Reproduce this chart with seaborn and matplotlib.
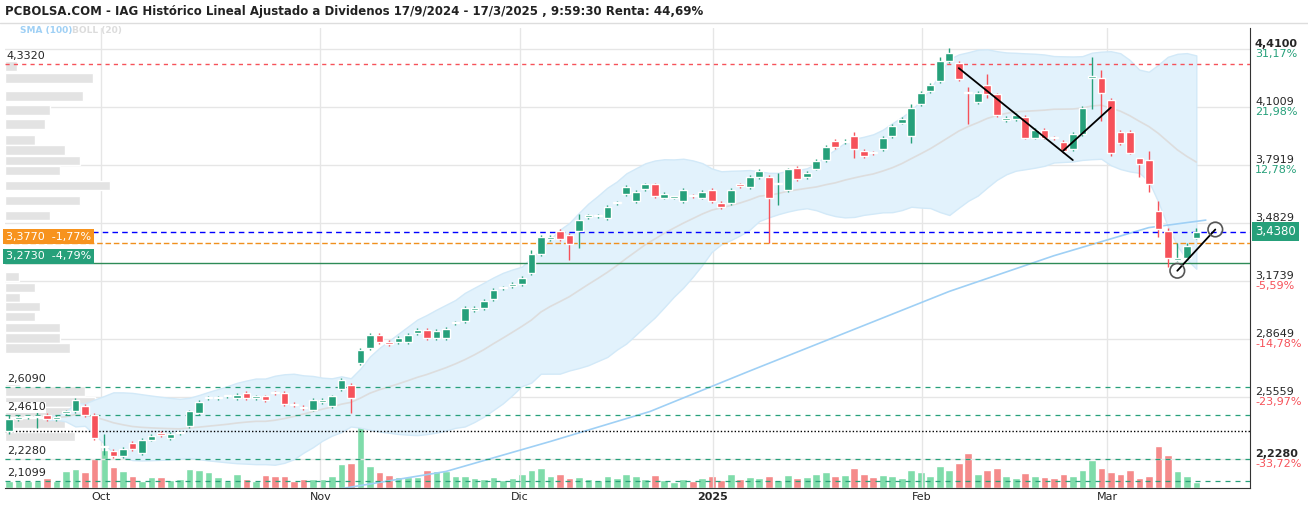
import numpy as np
import pandas as pd
import matplotlib
matplotlib.use("Agg")
import matplotlib.pyplot as plt
import seaborn as sns

# ---- data ----
opens = [2.375, 2.44, 2.45, 2.45, 2.46, 2.44, 2.47, 2.48, 2.51, 2.46,
         2.29, 2.27, 2.24, 2.31, 2.26, 2.33, 2.365, 2.34, 2.365, 2.40,
         2.47, 2.55, 2.55, 2.56, 2.55, 2.58, 2.55, 2.56, 2.58, 2.58,
         2.52, 2.505, 2.49, 2.53, 2.51, 2.60, 2.62, 2.74, 2.82, 2.89,
         2.85, 2.85, 2.85, 2.90, 2.915, 2.87, 2.87, 2.95, 2.96, 3.02,
         3.03, 3.08, 3.14, 3.15, 3.16, 3.22, 3.32, 3.40, 3.44, 3.42,
         3.44, 3.515, 3.52, 3.51, 3.59, 3.64, 3.60, 3.665, 3.69, 3.62,
         3.62, 3.60, 3.63, 3.62, 3.66, 3.59, 3.59, 3.69, 3.675, 3.73,
         3.73, 3.69, 3.66, 3.78, 3.73, 3.775, 3.82, 3.92, 3.915, 3.95,
         3.87, 3.86, 3.88, 3.95, 4.02, 3.95, 4.12, 4.19, 4.24, 4.35,
         4.34, 4.18, 4.13, 4.22, 4.17, 4.035, 4.04, 4.05, 3.94, 3.98,
         3.94, 3.915, 3.88, 3.96, 4.26, 4.26, 4.14, 3.97, 3.97, 3.83,
         3.82, 3.55, 3.44, 3.29, 3.30, 3.405]
closes = [2.439, 2.45, 2.45, 2.455, 2.44, 2.45, 2.48, 2.54, 2.46, 2.34,
          2.295, 2.24, 2.28, 2.28, 2.33, 2.35, 2.355, 2.36, 2.365, 2.48,
          2.53, 2.55, 2.55, 2.56, 2.57, 2.55, 2.56, 2.54, 2.578, 2.52,
          2.515, 2.50, 2.54, 2.54, 2.56, 2.65, 2.55, 2.81, 2.89, 2.85,
          2.84, 2.87, 2.89, 2.915, 2.87, 2.91, 2.92, 2.95, 3.03, 3.03,
          3.07, 3.13, 3.14, 3.16, 3.19, 3.32, 3.41, 3.41, 3.40, 3.375,
          3.50, 3.525, 3.52, 3.57, 3.59, 3.675, 3.65, 3.69, 3.63, 3.64,
          3.62, 3.66, 3.628, 3.65, 3.60, 3.57, 3.66, 3.68, 3.73, 3.76,
          3.62, 3.69, 3.77, 3.72, 3.75, 3.815, 3.89, 3.89, 3.92, 3.88,
          3.84, 3.858, 3.94, 4.00, 4.04, 4.10, 4.18, 4.22, 4.35, 4.39,
          4.25, 4.178, 4.18, 4.17, 4.06, 4.045, 4.06, 3.94, 3.98, 3.94,
          3.935, 3.87, 3.96, 4.10, 4.26, 4.18, 3.86, 3.91, 3.86, 3.80,
          3.69, 3.45, 3.30, 3.295, 3.36, 3.438]
# notable wicks: index -> (low, high)
wicks = {0: (2.36, 2.46), 3: (2.39, 2.48), 9: (2.33, 2.47), 10: (2.25, 2.36),
         36: (2.47, 2.63), 55: (3.21, 3.34), 59: (3.29, 3.43), 60: (3.35, 3.53),
         80: (3.377, 3.74), 81: (3.58, 3.75), 89: (3.83, 3.97), 95: (3.91, 4.12),
         98: (4.23, 4.37), 99: (4.34, 4.42), 101: (4.01, 4.21), 103: (4.15, 4.28),
         114: (4.09, 4.37), 115: (4.03, 4.30), 116: (3.84, 4.15), 119: (3.73, 3.83),
         120: (3.65, 3.87), 121: (3.41, 3.60), 122: (3.25, 3.46), 123: (3.28, 3.38),
         124: (3.29, 3.38), 125: (3.40, 3.46)}
volumes = [7, 7, 7, 7, 10, 7, 17, 19, 16, 30,
           38, 21, 17, 12, 7, 11, 11, 8, 9, 19,
           18, 16, 11, 7, 14, 9, 7, 13, 12, 12,
           7, 9, 9, 9, 12, 24, 25, 70, 22, 16,
           13, 11, 11, 11, 18, 17, 17, 12, 12, 10,
           9, 11, 8, 10, 14, 18, 20, 12, 14, 10,
           11, 9, 8, 12, 10, 14, 12, 9, 13, 8,
           6, 9, 7, 10, 12, 8, 14, 9, 11, 10,
           12, 8, 13, 10, 11, 14, 16, 12, 13, 20,
           14, 11, 13, 12, 10, 18, 16, 12, 22, 18,
           25, 35, 14, 18, 20, 12, 10, 15, 12, 11,
           10, 14, 12, 18, 28, 20, 16, 14, 18, 10,
           12, 42, 33, 17, 12, 6]
sma_idx = [34, 46, 57, 67.5, 78, 88.6, 99, 110, 120, 126]
sma_vals = [2.06, 2.16, 2.32, 2.48, 2.696, 2.91, 3.12, 3.31, 3.46, 3.50]
prof_price = [4.322, 4.258, 4.162, 4.087, 4.012, 3.926, 3.873, 3.819, 3.766, 3.686,
              3.605, 3.525, 3.199, 3.14, 3.087, 3.038, 2.985, 2.926, 2.872, 2.819,
              2.642, 2.589, 2.530, 2.477, 2.418, 2.348]
prof_width = [1.3, 9.3, 8.2, 4.7, 4.2, 3.2, 6.3, 7.9, 5.8, 11.0,
              7.9, 4.7, 1.5, 3.2, 1.6, 3.7, 3.2, 5.8, 5.8, 6.8,
              1.6, 8.4, 9.5, 13.7, 6.3, 7.4]
zig_idx = [100, 112, 111, 116, 123, 127]
zig_val = [4.31, 3.82, 3.87, 4.10, 3.23, 3.45]
month_idx = [9.7, 32.8, 53.8, 74.1, 96.1, 115.6]
month_lbl = ["Oct", "Nov", "Dic", "2025", "Feb", "Mar"]
right_ticks = [4.4100, 4.1009, 3.7919, 3.4829, 3.1739, 2.8649, 2.5559, 2.2280]
right_pct = ["31,17%", "21,98%", "12,78%", "", "-5,59%", "-14,78%", "-23,97%", "-33,72%"]

GREEN = "#26a07a"
RED = "#f6525a"

sns.set_style("white")
df = pd.DataFrame({"open": opens, "close": closes, "vol": volumes})
df["idx"] = np.arange(len(df))
mid = df["close"].rolling(20, min_periods=5).mean()
sd = df["close"].rolling(20, min_periods=5).std(ddof=0)

fig = plt.figure(figsize=(13.08, 5.12), dpi=100)
ax = fig.add_axes([5 / 1308, 24 / 512, 1245 / 1308, 460 / 512])
ylo, yhi = 2.072, 4.524
xlo = -0.4
xhi = xlo + 1245 / 9.5
ax.set_xlim(xlo, xhi)
ax.set_ylim(ylo, yhi)

# grid
for t in right_ticks:
    ax.axhline(t, color="#e6e6e6", lw=1, zorder=0)
for m in month_idx:
    ax.axvline(m, color="#e6e6e6", lw=1, zorder=0)

# volume profile (left)
ax.barh(prof_price, prof_width, height=0.05, left=xlo, color="#e3e3e3", zorder=1)

# bollinger
ax.fill_between(df["idx"], mid - 2 * sd, mid + 2 * sd, color="#e2f2fc", zorder=1,
                edgecolor="#d2e9f8", lw=1)
sns.lineplot(x=df["idx"], y=mid, ax=ax, color="#dddddd", lw=1.2, zorder=2)
sns.lineplot(x=sma_idx, y=sma_vals, ax=ax, color="#9fd0f5", lw=1.2, zorder=2)

# volumes on twin axis
axv = ax.twinx()
axv.set_ylim(0, 460)
axv.set_yticks([])
vcol = ["#7fdcaa" if c >= o else "#f58a8a" for o, c in zip(opens, closes)]
axv.bar(df["idx"], df["vol"], width=0.8, color=vcol, zorder=1)
for s in axv.spines.values():
    s.set_visible(False)
ax.set_zorder(axv.get_zorder() + 1)
ax.patch.set_visible(False)

# candles
for i, (o, c) in enumerate(zip(opens, closes)):
    col = GREEN if c >= o else RED
    lo, hi = wicks.get(i, (min(o, c) - 0.01, max(o, c) + 0.01))
    ax.vlines(i, lo, hi, color=col, lw=1, zorder=4)
    body = max(abs(c - o), 0.006)
    ax.bar(i, body, bottom=min(o, c), width=0.8, color=col, zorder=5)

# reference lines
ax.axhline(4.332, color=RED, ls=(0, (3, 3)), lw=1, zorder=3)
for lv in [2.609, 2.461, 2.228, 2.1099]:
    ax.axhline(lv, color=GREEN, ls=(0, (4, 4)), lw=0.9, zorder=3)
ax.axhline(2.377, color="black", ls=(0, (1, 1.5)), lw=1, zorder=3)
ax.axhline(3.438, color="blue", ls=(0, (4, 3)), lw=1, zorder=3)
ax.axhline(3.377, color="#f0901e", ls=(0, (4, 2)), lw=1, zorder=3)
ax.axhline(3.273, color="#2e8b57", lw=1, zorder=3)

# zigzag
for k in range(0, len(zig_idx), 2):
    ax.plot(zig_idx[k:k + 2], zig_val[k:k + 2], color="black", lw=1.3, zorder=6)
ax.scatter([zig_idx[4], zig_idx[5]], [zig_val[4], zig_val[5]], s=110,
           facecolors="none", edgecolors="#555555", lw=1.2, zorder=7)

# left labels
for lv, txt in [(4.332, "4,3320"), (2.609, "2,6090"), (2.461, "2,4610"),
                (2.228, "2,2280"), (2.1099, "2,1099")]:
    ax.text(xlo + 0.2, lv + 0.015, txt, fontsize=8, va="bottom", ha="left", zorder=8,
            bbox=dict(fc="white", ec="none", pad=0.5))
ax.text(xlo + 0.1, 3.377 + 0.035, "3,3770  -1,77%", fontsize=8, color="white", va="center",
        zorder=8, bbox=dict(fc="#f7931e", ec="none", pad=1.8))
ax.text(xlo + 0.1, 3.273 + 0.035, "3,2730  -4,79%", fontsize=8, color="white", va="center",
        zorder=8, bbox=dict(fc="#26a07a", ec="none", pad=1.8))

# right labels
tr = ax.get_yaxis_transform()
for t, p in zip(right_ticks, right_pct):
    ax.text(1.004, t, f"{t:.4f}".replace(".", ","), transform=tr, fontsize=8,
            va="bottom", fontweight="bold" if t in (4.41, 2.228) else "normal")
    if p:
        ax.text(1.004, t, p, transform=tr, fontsize=8, va="top",
                color=GREEN if not p.startswith("-") else RED)
ax.text(1.004, 3.438, "3,4380", transform=tr, fontsize=8.5, color="white", va="center",
        bbox=dict(fc="#26a07a", ec="none", pad=2))

# month labels
ax.set_xticks(month_idx)
ax.set_xticklabels(month_lbl, fontsize=8)
for lab in ax.get_xticklabels():
    if lab.get_text() == "2025":
        lab.set_fontweight("bold")
ax.tick_params(axis="x", length=0, pad=3)
ax.set_yticks([])
ax.set_xlabel("")
ax.set_ylabel("")
for side in ["top", "left"]:
    ax.spines[side].set_visible(False)
ax.spines["right"].set_color("#333333")
ax.spines["bottom"].set_color("#333333")

fig.text(5 / 1308, 1 - 12 / 512, "PCBOLSA.COM - IAG Histórico Lineal Ajustado a Dividenos 17/9/2024 - 17/3/2025 , 9:59:30 Renta: 44,69%",
         fontsize=8.5, va="center", ha="left", fontweight="bold", color="#222222")
fig.add_artist(plt.Line2D([0, 1], [1 - 23 / 512] * 2, color="#dddddd", lw=1))
fig.text(20 / 1308, 1 - 30 / 512, "SMA (100)", fontsize=6.5, color="#9fd0f5", fontweight="bold", va="center")
fig.text(72 / 1308, 1 - 30 / 512, "BOLL (20)", fontsize=6.5, color="#dcdcdc", fontweight="bold", va="center")

fig.savefig("out.png", dpi=100)
